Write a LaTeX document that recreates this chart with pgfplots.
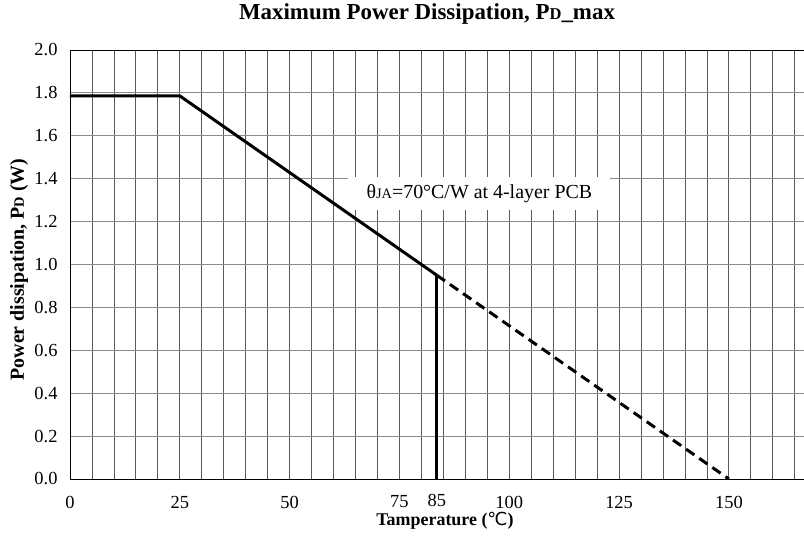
\documentclass[border=0pt]{standalone}
\usepackage{fontspec}
\setmainfont{Liberation Serif}
\newfontfamily\djv{DejaVu Sans}
\usepackage{pgfplots}
\pgfplotsset{compat=1.18}
\newcommand{\sm}[1]{\scalebox{0.72}{#1}}

\begin{document}
\begin{tikzpicture}
\begin{axis}[
  scale only axis,
  width=734bp, height=429bp,
  xmin=0, xmax=167.1, ymin=0, ymax=2,
  axis lines=left,
  axis line style={-, black, line width=0.8bp},
  xtick={0,25,50,75,100,125,150},
  extra x ticks={83.5},
  extra x tick labels={85},
  extra x tick style={grid=none, xticklabel style={yshift=1.5bp}},
  minor xtick={5,10,15,20,30,35,40,45,55,60,65,70,80,85,90,95,105,110,115,120,130,135,140,145,155,160,165},
  ytick={0,0.2,0.4,0.6,0.8,1.0,1.2,1.4,1.6,1.8,2.0},
  grid=both,
  major x grid style={black!65, line width=0.8bp},
  minor x grid style={black!65, line width=0.8bp},
  major y grid style={black!45, line width=0.8bp},
  major tick length=0pt, minor tick length=0pt,
  tick label style={font=\fontsize{18.5}{18.5}\selectfont},
  /pgf/number format/assume math mode=true,
  yticklabel style={xshift=-9bp, /pgf/number format/.cd, fixed, fixed zerofill, precision=1},
  xticklabel style={anchor=center, yshift=-23bp},
  title={\bfseries\fontsize{23}{23}\selectfont Maximum Power Dissipation, P\sm{D}\_max},
  title style={at={(axis description cs:0.5,1)}, anchor=center, yshift=30bp, xshift=-10bp},
  xlabel={\bfseries\fontsize{18}{18}\selectfont Tamperature ({\djv\mdseries ℃})},
  xlabel style={at={(axis description cs:0.5,0)}, anchor=center, yshift=-42bp, xshift=8bp},
  ylabel={\bfseries\fontsize{20}{20}\selectfont Power dissipation, P\sm{D} (W)},
  ylabel style={at={(axis description cs:0,0.5)}, anchor=center, rotate=0, xshift=-5bp, yshift=51bp},
]
\addplot[black, line width=3bp] coordinates {(0,1.786)(25,1.786)(83.5,0.95)};
\addplot[black, line width=3bp, dash pattern=on 10bp off 6bp] coordinates {(83.5,0.95)(150,0)};
\addplot[black, line width=3bp] coordinates {(83.5,0)(83.5,0.95)};
\addplot[black, line width=0.8bp] coordinates {(0,2)(167.1,2)};
\node[fill=white, minimum width=262bp, minimum height=33bp, inner sep=0pt,
  font=\fontsize{20}{20}\selectfont] at (axis cs:93.2,1.331)
  {θ\sm{JA}=70°C/W at 4-layer PCB};
\coordinate (bl) at (rel axis cs:0,0);
\coordinate (tr) at (rel axis cs:1,1);
\end{axis}
\path (bl) ++(-70bp,-62bp) coordinate (A);
\path (tr) ++(0bp,50bp) coordinate (B);
\pgfresetboundingbox
\path (A) rectangle (B);
\end{tikzpicture}
\end{document}
